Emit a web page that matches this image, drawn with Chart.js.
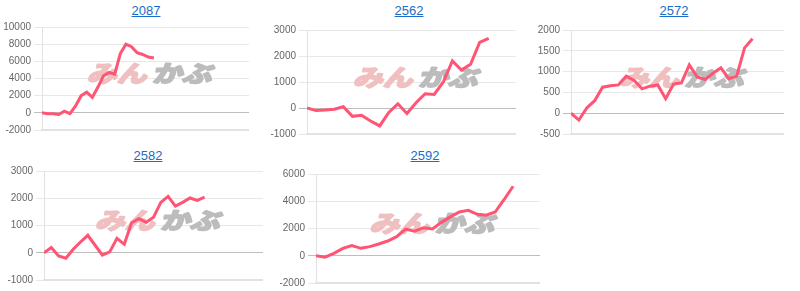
<!DOCTYPE html>
<html lang="ja">
<head>
<meta charset="UTF-8">
<title>Charts</title>
<script src="https://cdn.jsdelivr.net/npm/chart.js"></script>
<style>
  body { margin: 0; background: #fff; font-family: "Liberation Sans", Arial, sans-serif; }
  .box { position: absolute; }
  .ttl { position: absolute; width: 80px; margin-left: -40px; text-align: center; font-size: 13px; }
  .ttl a { color: #1a6dc8; text-decoration: underline; }
</style>
</head>
<body>
<div class="ttl" style="left:146px;top:3px"><a href="#">2087</a></div>
<div class="ttl" style="left:409px;top:3px"><a href="#">2562</a></div>
<div class="ttl" style="left:674px;top:3px"><a href="#">2572</a></div>
<div class="ttl" style="left:148px;top:148px"><a href="#">2582</a></div>
<div class="ttl" style="left:425px;top:148px"><a href="#">2592</a></div>

<div class="box" style="left:0px;top:18px;width:249px;height:121px"><canvas id="c2087"></canvas></div>
<div class="box" style="left:265px;top:21px;width:251px;height:122px"><canvas id="c2562"></canvas></div>
<div class="box" style="left:531px;top:21px;width:253px;height:122px"><canvas id="c2572"></canvas></div>
<div class="box" style="left:0px;top:162px;width:263px;height:127px"><canvas id="c2582"></canvas></div>
<div class="box" style="left:272px;top:165px;width:268px;height:127px"><canvas id="c2592"></canvas></div>

<script>
  // 各銘柄の損益推移
  const values2087 = [0, -100, -120, -200, 200, -100, 800, 2000, 2400, 1800, 3000, 4300, 4700, 4500, 6900, 8000, 7700, 7000, 6800, 6500, 6400];
  const values2562 = [0, -100, -80, -50, 50, -320, -280, -500, -690, -170, 160, -210, 200, 550, 520, 1000, 1810, 1460, 1680, 2520, 2680];
  const values2572 = [0, -165, 125, 300, 625, 660, 680, 890, 790, 585, 650, 680, 350, 700, 730, 1160, 870, 810, 960, 1090, 830, 890, 1570, 1790];
  const values2582 = [0, 190, -115, -200, 130, 395, 640, 275, -90, 30, 530, 310, 1100, 1250, 1120, 1300, 1850, 2070, 1710, 1850, 2010, 1920, 2040];
  const values2592 = [0, -100, 180, 540, 740, 545, 670, 860, 1080, 1400, 1960, 1810, 2060, 1960, 2450, 2850, 3210, 3330, 3040, 2970, 3210, 4130, 5100];

  // 期間の長さ（横軸の最終位置）と縦軸の範囲
  const xMax = { c2087: 37, c2562: 23, c2572: 27, c2582: 30, c2592: 25 };
  const yMin = { c2087: -2000, c2562: -1000, c2572: -500, c2582: -1000, c2592: -2000 };
  const yMax = { c2087: 10000, c2562: 3000, c2572: 2000, c2582: 3000, c2592: 6000 };
  const yStep = { c2087: 2000, c2562: 1000, c2572: 500, c2582: 1000, c2592: 2000 };
  const axisW = { c2087: 42, c2562: 42, c2572: 40, c2582: 44, c2592: 44 };

  // ロゴの透かし
  const watermark = {
    id: 'watermark',
    beforeDatasetsDraw(chart) {
      const a = chart.chartArea;
      const ctx = chart.ctx;
      const cx = (a.left + a.right) / 2 + 6;
      const cy = (a.top + a.bottom) / 2 - 5;
      ctx.save();
      ctx.translate(cx, cy);
      ctx.transform(1.3, 0, -0.25, 1, 0, 0);
      ctx.font = 'bold 23px "Noto Sans CJK JP"';
      ctx.textBaseline = 'middle';
      ctx.lineJoin = 'round';
      ctx.lineWidth = 2;
      const w1 = ctx.measureText('みん').width;
      const w2 = ctx.measureText('かぶ').width;
      const x0 = -(w1 + w2 + 4) / 2;
      ctx.fillStyle = ctx.strokeStyle = '#f0c0c0';
      ctx.strokeText('みん', x0, 0);
      ctx.fillText('みん', x0, 0);
      ctx.fillStyle = ctx.strokeStyle = '#bcbcbc';
      ctx.strokeText('かぶ', x0 + w1 + 4, 0);
      ctx.fillText('かぶ', x0 + w1 + 4, 0);
      ctx.restore();
    }
  };

  function makeChart(id, values) {
    new Chart(document.getElementById(id), {
      type: 'line',
      data: {
        datasets: [{
          data: values.map((v, i) => ({ x: i, y: v })),
          borderColor: 'rgb(255, 84, 116)',
          borderWidth: 3,
          pointRadius: 0,
          tension: 0,
          fill: false
        }]
      },
      options: {
        responsive: true,
        maintainAspectRatio: false,
        animation: false,
        layout: { padding: { top: 6, bottom: 0, left: 0, right: 0 } },
        plugins: { legend: { display: false }, tooltip: { enabled: false } },
        scales: {
          x: {
            type: 'linear', min: 0, max: xMax[id],
            ticks: { display: false },
            grid: { display: false },
            border: { display: true, color: '#e2e2e2', width: 2 },
            afterFit(axis) { axis.height = 6; }
          },
          y: {
            min: yMin[id], max: yMax[id],
            ticks: {
              stepSize: yStep[id], color: '#666', padding: 3,
              font: { size: 10, family: '"Liberation Sans", Arial' },
              callback: v => String(v)
            },
            grid: {
              color: ctx => ctx.tick && ctx.tick.value === 0 ? '#bdbdbd' : '#e8e8e8',
              tickLength: 8
            },
            border: { display: true, color: '#e2e2e2' },
            afterFit(axis) { axis.width = axisW[id]; }
          }
        }
      },
      plugins: [watermark]
    });
  }

  makeChart('c2087', values2087);
  makeChart('c2562', values2562);
  makeChart('c2572', values2572);
  makeChart('c2582', values2582);
  makeChart('c2592', values2592);
</script>
</body>
</html>
